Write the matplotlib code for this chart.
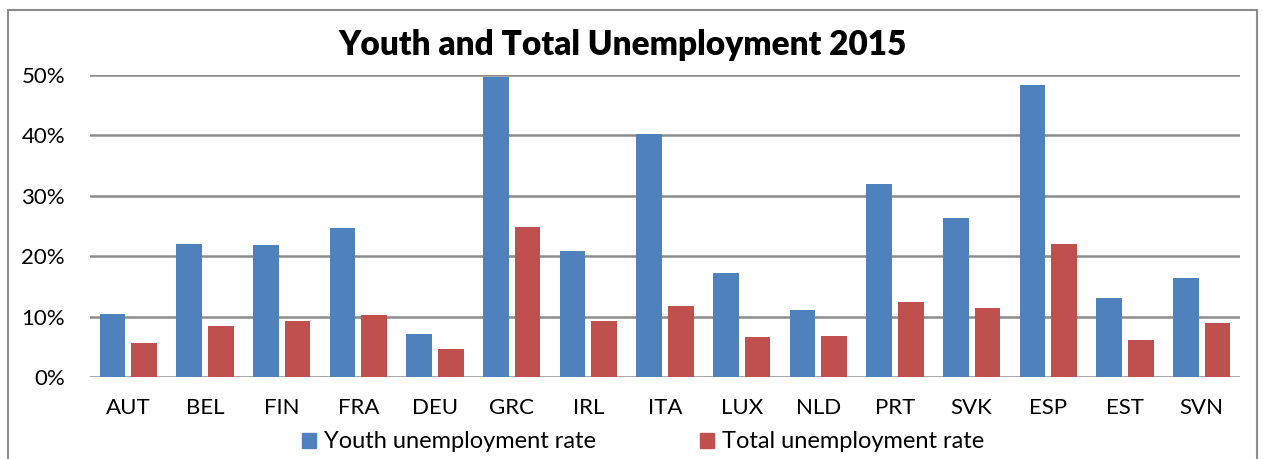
import numpy as np
import matplotlib
matplotlib.use("Agg")
import matplotlib.pyplot as plt
from matplotlib.patches import Rectangle, Patch
from matplotlib.ticker import FuncFormatter

# data (percent)
countries = ["AUT", "BEL", "FIN", "FRA", "DEU", "GRC", "IRL", "ITA",
             "LUX", "NLD", "PRT", "SVK", "ESP", "EST", "SVN"]
youth = [10.4, 22.0, 21.9, 24.6, 7.2, 49.7, 20.8, 40.3,
         17.2, 11.1, 31.9, 26.4, 48.3, 13.1, 16.4]
total = [5.7, 8.4, 9.3, 10.3, 4.6, 24.9, 9.3, 11.8,
         6.6, 6.8, 12.4, 11.4, 22.0, 6.1, 8.9]
labels = ["Youth unemployment rate", "Total unemployment rate"]

plt.rcParams['font.family'] = ['Lato', 'DejaVu Sans']

W, H = 1263, 459
fig = plt.figure(figsize=(W / 100, H / 100), dpi=100)
fig.patch.set_facecolor("white")

# outer chart frame
fig.add_artist(Rectangle((8 / W, -0.05), (1257 - 8) / W, (H - 10) / H + 0.05,
                         transform=fig.transFigure, fill=False,
                         edgecolor="#8c8c8c", lw=1.5))

ax = fig.add_axes([90 / W, (H - 377) / H, (1240 - 90) / W, (377 - 75) / H])
x = np.arange(len(countries))
w = 0.335
ax.bar(x - 0.205, youth, w, color="#4F81BD", label=labels[0], zorder=3)
ax.bar(x + 0.205, total, w, color="#C0504D", label=labels[1], zorder=3)

ax.set_xlim(-0.5, len(countries) - 0.5)
ax.set_ylim(0, 50)
ax.set_yticks(np.arange(0, 51, 10))
ax.yaxis.set_major_formatter(FuncFormatter(lambda v, p: "%d%%" % v))
ax.set_xticks(x)
ax.set_xticklabels(countries)
ax.tick_params(axis="both", length=0, labelsize=16, colors="black")
ax.tick_params(axis="y", pad=18)
ax.tick_params(axis="x", pad=15)
for s in ax.spines.values():
    s.set_visible(False)
ax.grid(axis="y", color="#8c8c8c", lw=1.8, zorder=0)
ax.set_axisbelow(True)

fig.text(623 / W, 1 - 45 / H, "Youth and Total Unemployment 2015",
         ha="center", va="center", fontsize=24, fontweight="heavy")

handles = [Patch(color="#4F81BD"), Patch(color="#C0504D")]
fig.legend(handles, labels, loc="center", bbox_to_anchor=(643 / W, 1 - 442 / H),
           ncol=2, frameon=False, fontsize=17, handlelength=0.6, handleheight=0.6,
           handletextpad=0.35, columnspacing=4.4)

fig.savefig("out.png", dpi=100)
